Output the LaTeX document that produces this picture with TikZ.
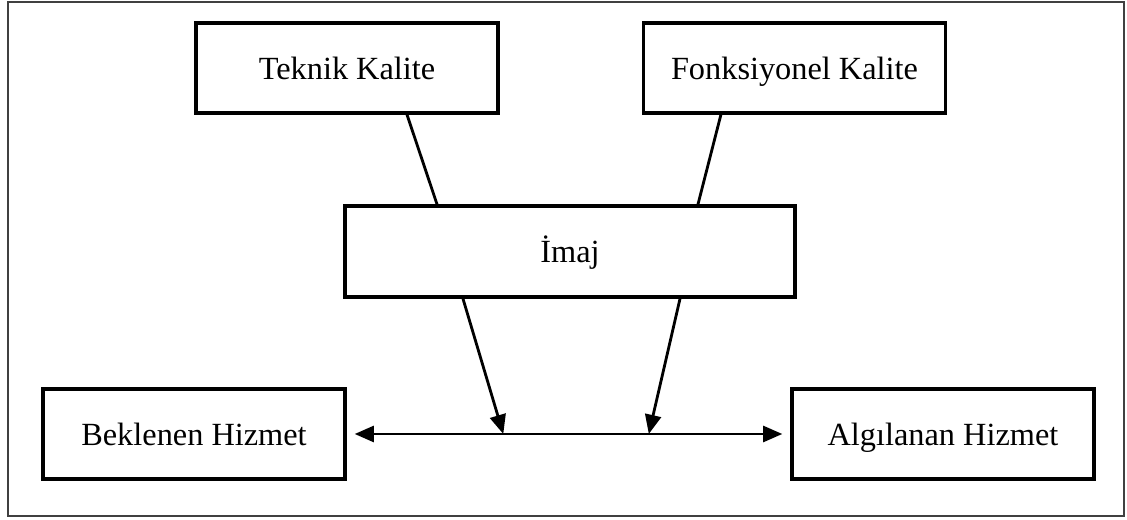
\documentclass[tikz,border=0pt]{standalone}
\usepackage{fontspec}
\setmainfont{Liberation Serif}
\usetikzlibrary{arrows.meta}

\begin{document}
\begin{tikzpicture}[x=1.25cm, y=1.25cm, >={Triangle[length=2.4mm,width=2mm]},
    box/.style={draw, line width=1.2pt, minimum width=3.775cm, minimum height=1.125cm,
      inner sep=0pt, text height=0.9em, text depth=0.1em, font=\fontsize{11.5}{14}\selectfont}]
      % Outer frame
      \useasboundingbox (0,0) rectangle (11.27,5.2);
      \draw[black!75, line width=0.6pt] (0.08,0.04) rectangle (11.24,5.18);

      % Quality boxes on top
      \node[box] (teknik) at (3.47,4.52) {Teknik Kalite};
      \node[box] (fonk) at (7.945,4.52) {Fonksiyonel Kalite};

      % Image box
      \node[box, minimum width=5.625cm, minimum height=1.14cm] (imaj) at (5.70,2.685) {İmaj};

      % Service boxes
      \node[box] (beklenen) at (1.94,0.86) {Beklenen Hizmet};
      \node[box] (algilanan) at (9.43,0.86) {Algılanan Hizmet};

      % Lines from quality to image
      \draw[line width=1pt] ([xshift=0.75cm]teknik.south) -- ([xshift=-1.6625cm]imaj.north);
      \draw[line width=1pt] ([xshift=-0.92cm]fonk.south) -- ([xshift=1.6cm]imaj.north);

      % Expected vs perceived service
      \draw[<->, line width=1pt, shorten <=0.1cm, shorten >=0.1cm] (beklenen.east) -- (algilanan.west)
        coordinate[pos=0.353] (p1) coordinate[pos=0.681] (p2);

      % Image affects both
      \draw[->, line width=1pt] ([xshift=-1.3375cm]imaj.south) -- (p1);
      \draw[->, line width=1pt] ([xshift=1.375cm]imaj.south) -- (p2);
    \end{tikzpicture}
\end{document}
